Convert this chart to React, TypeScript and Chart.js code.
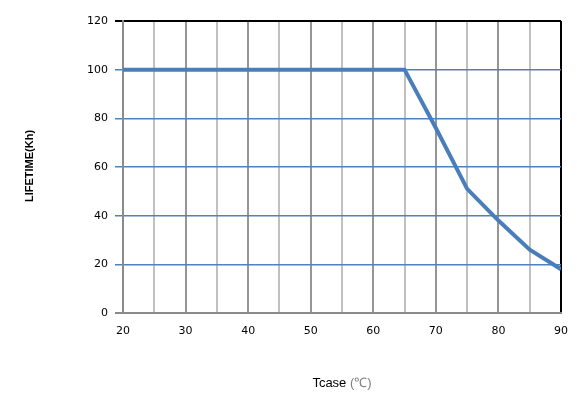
import React, { useEffect, useRef } from "react";
import { Chart, registerables } from "chart.js";
Chart.register(...registerables);

const tcase = [20, 65, 70, 75, 80, 85, 90];
const lifetime = [100, 100, 76, 51, 38, 26, 18];
const xTitle = "Tcase ";
const xTitleUnit = "(℃)";
const yTitle = "LIFETIME(Kh)";

const titlePlugin = {
  id: "axisTitles",
  afterDraw(chart: any) {
    const ctx = chart.ctx;
    ctx.save();
    ctx.font = "13px 'Liberation Sans', Arial, sans-serif";
    ctx.textBaseline = "middle";
    const w1 = ctx.measureText(xTitle).width;
    const w2 = ctx.measureText(xTitleUnit).width;
    const cx = 342;
    let x0 = cx - (w1 + w2) / 2;
    ctx.textAlign = "left";
    ctx.fillStyle = "#000";
    ctx.fillText(xTitle, x0, 383);
    ctx.fillStyle = "#7f7f7f";
    ctx.fillText(xTitleUnit, x0 + w1, 383);
    ctx.translate(30, 166);
    ctx.rotate(-Math.PI / 2);
    ctx.textAlign = "center";
    ctx.fillStyle = "#000";
    ctx.font = "bold 11px 'Liberation Sans', Arial, sans-serif";
    ctx.fillText(yTitle, 0, 0);
    ctx.restore();
  },
};

export default function App() {
  const ref = useRef<HTMLCanvasElement>(null);
  useEffect(() => {
    const chart = new Chart(ref.current!, {
      type: "line",
      data: {
        datasets: [
          {
            data: tcase.map((x, i) => ({ x, y: lifetime[i] })),
            borderColor: "#4a7ebb",
            borderWidth: 4,
            pointRadius: 0,
            tension: 0,
            fill: false,
          },
        ],
      },
      options: {
        animation: false,
        responsive: false,
        layout: { padding: { left: 0, right: 16, top: 21, bottom: 0 } },
        plugins: { legend: { display: false }, tooltip: { enabled: false } },
        scales: {
          x: {
            type: "linear",
            min: 20,
            max: 90,
            border: { display: true, color: "#8a8a8a", width: 2 },
            grid: {
              drawTicks: false,
              lineWidth: 2,
              color: (c: any) => {
                const v = c.tick.value;
                if (v === 90) return "#000000";
                return v % 10 === 0 ? "#969696" : "#c0c0c0";
              },
            },
            ticks: {
              stepSize: 5,
              padding: 12,
              autoSkip: false,
              maxRotation: 0,
              color: "#000",
              font: { family: "'DejaVu Sans', Verdana, sans-serif", size: 11 },
              callback: (v: any) => (v % 10 === 0 ? String(v) : ""),
            },
            afterFit: (s: any) => {
              s.height = 87;
              s.paddingLeft = 0;
              s.paddingRight = 0;
            },
          },
          y: {
            min: 0,
            max: 120,
            border: { display: true, color: "#8a8a8a", width: 2 },
            grid: {
              drawTicks: true,
              tickLength: 8,
              lineWidth: (c: any) => (c.tick.value === 0 || c.tick.value === 120 ? 2 : 1.5),
              color: (c: any) => {
                const v = c.tick.value;
                if (v === 120) return "#000000";
                if (v === 0) return "#8a8a8a";
                return "#4f81bd";
              },
              tickColor: (c: any) => {
                const v = c.tick.value;
                if (v === 120) return "#000000";
                if (v === 0) return "#8a8a8a";
                return "#4f81bd";
              },
            },
            ticks: {
              stepSize: 20,
              padding: 7,
              color: "#000",
              font: { family: "'DejaVu Sans', Verdana, sans-serif", size: 11 },
            },
            afterFit: (s: any) => {
              s.width = 123;
              s.paddingTop = 0;
              s.paddingBottom = 0;
            },
          },
        },
      },
      plugins: [titlePlugin],
    } as any);
    return () => chart.destroy();
  }, []);
  return (
    <div style={{ position: "absolute", left: 0, top: 0, width: 577, height: 400, background: "#fff" }}>
      <canvas ref={ref} width={577} height={400} style={{ width: 577, height: 400, display: "block" }} />
    </div>
  );
}
